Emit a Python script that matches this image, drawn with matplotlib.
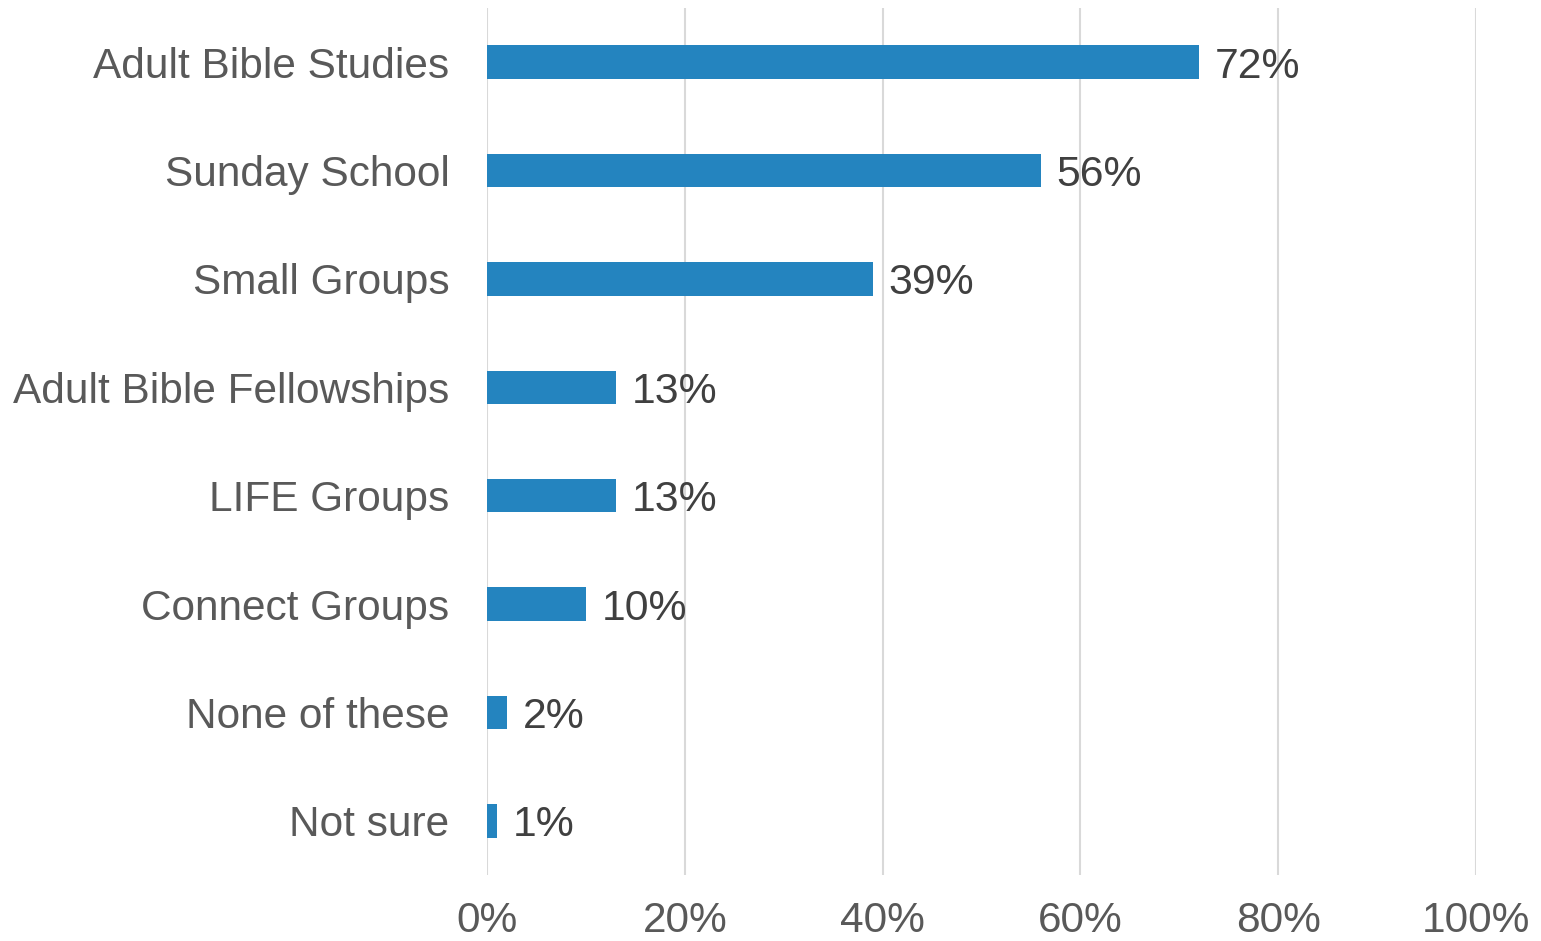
import matplotlib
matplotlib.use("Agg")
import matplotlib.pyplot as plt
from matplotlib.ticker import FuncFormatter

categories = ["Adult Bible Studies", "Sunday School", "Small Groups",
              "Adult Bible Fellowships", "LIFE Groups", "Connect Groups",
              "None of these", "Not sure"]
values = [72, 56, 39, 13, 13, 10, 2, 1]
x_ticks = [0, 20, 40, 60, 80, 100]

plt.rcParams['font.family'] = ['Liberation Sans', 'DejaVu Sans']

fig = plt.figure(figsize=(15.41, 9.41), dpi=100)
ax = fig.add_axes([487 / 1541, 1 - 875 / 941, 989 / 1541, 867 / 941])

pos = list(range(len(categories)))
ax.barh(pos, values, height=0.31, color="#2484BF", zorder=2)

# value labels to the right of each bar
for y, v in zip(pos, values):
    ax.text(v + 1.6, y, f"{v}%", va="center_baseline", ha="left",
            fontsize=30.8, color="#404040", zorder=3)

ax.set_xlim(0, 100)
ax.set_ylim(len(categories) - 0.5, -0.5)
ax.set_yticks(pos)
ax.set_yticklabels(categories, va="center_baseline")
ax.set_xticks(x_ticks)
ax.xaxis.set_major_formatter(FuncFormatter(lambda v, p: f"{int(v)}%"))

ax.tick_params(axis="y", length=0, pad=27, labelsize=30.5, labelcolor="#595959")
ax.tick_params(axis="x", length=0, pad=19, labelsize=30.5, labelcolor="#595959")

ax.grid(axis="x", color="#D9D9D9", linewidth=1.5, zorder=1)
ax.set_axisbelow(True)
for s in ax.spines.values():
    s.set_visible(False)

plt.savefig("out.png", dpi=100)
